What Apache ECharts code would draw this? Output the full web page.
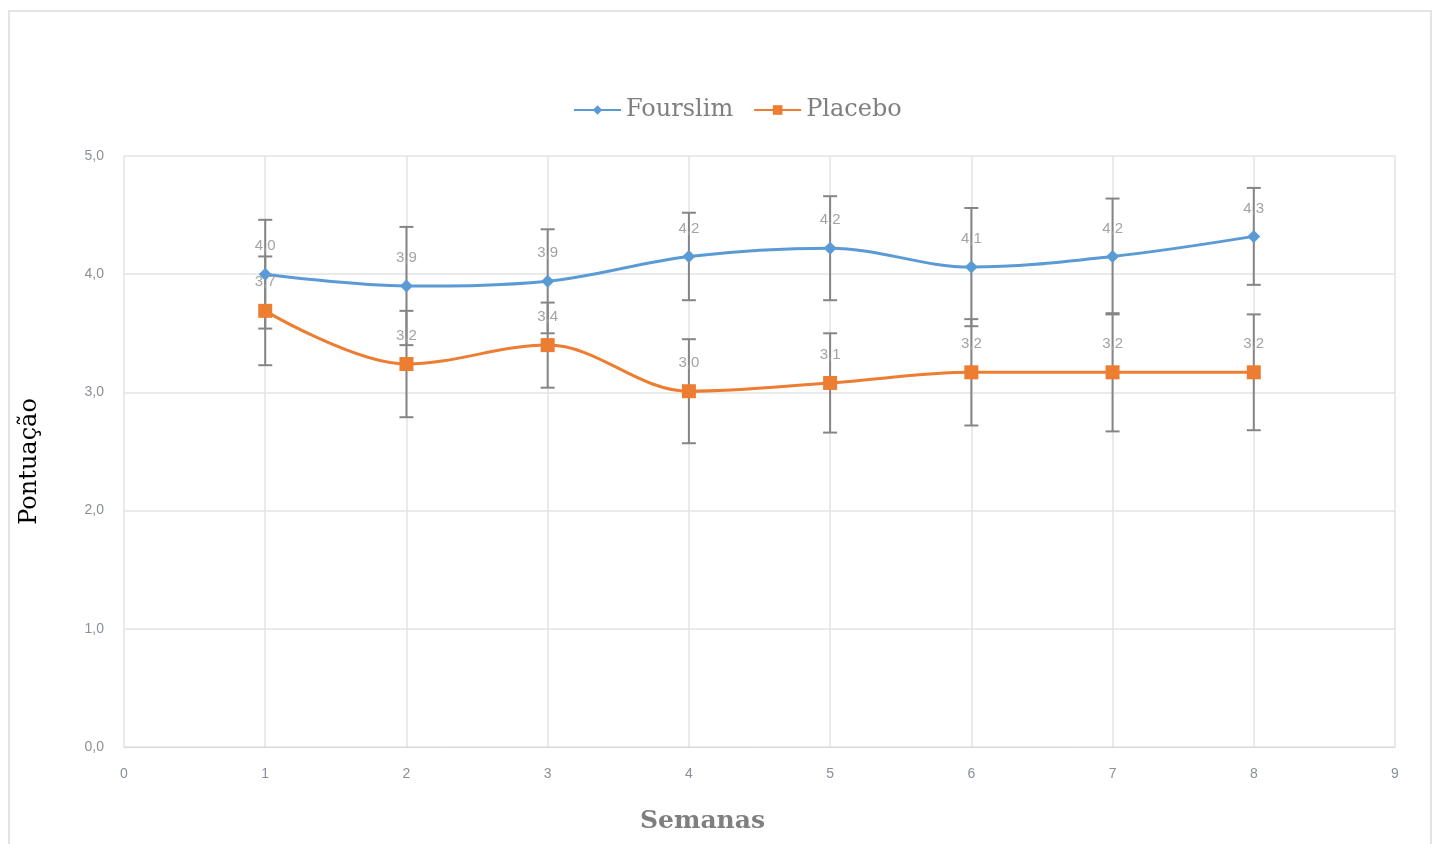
<!DOCTYPE html>
<html>
<head>
<meta charset="utf-8">
<script src="https://cdn.jsdelivr.net/npm/echarts@6/dist/echarts.min.js"></script>
<style>
    html,
    body {
        margin: 0;
        padding: 0;
        background: #fff;
        overflow: hidden;
    }
    
    .frame {
        position: absolute;
        left: 8px;
        top: 10px;
        width: 1420px;
        height: 840px;
        border: 2px solid #e4e4e4;
    }
    
    #chart {
        position: absolute;
        left: 0;
        top: 0;
        width: 1436px;
        height: 844px;
    }
</style>
</head>
<body>
<div class="frame"></div>
<div id="chart"></div>
<script>
    // 数据
    var weeks = [1, 2, 3, 4, 5, 6, 7, 8];
    var fourslimMean = [4.00, 3.90, 3.94, 4.15, 4.22, 4.06, 4.15, 4.32];
    var fourslimErr = [0.46, 0.50, 0.44, 0.37, 0.44, 0.50, 0.49, 0.41];
    var placeboMean = [3.69, 3.24, 3.40, 3.01, 3.08, 3.17, 3.17, 3.17];
    var placeboErr = [0.46, 0.45, 0.36, 0.44, 0.42, 0.45, 0.50, 0.49];

    var comma = function(v) {
        return Number(v).toFixed(1).replace('.', ',');
    };

    var pairs = function(xs, ys) {
        return xs.map(function(x, i) {
            return [x, ys[i]];
        });
    };

    var bars = function(xs, ys, es) {
        return xs.map(function(x, i) {
            return [x, ys[i] - es[i], ys[i] + es[i]];
        });
    };

    // 误差线
    var renderErr = function(params, api) {
        var x = api.value(0);
        var lo = api.coord([x, api.value(1)]);
        var hi = api.coord([x, api.value(2)]);
        var hw = 7;
        var st = {
            stroke: '#858585',
            lineWidth: 2
        };
        return {
            type: 'group',
            children: [{
                type: 'line',
                shape: { x1: hi[0] - hw, y1: hi[1], x2: hi[0] + hw, y2: hi[1] },
                style: st
            }, {
                type: 'line',
                shape: { x1: hi[0], y1: hi[1], x2: lo[0], y2: lo[1] },
                style: st
            }, {
                type: 'line',
                shape: { x1: lo[0] - hw, y1: lo[1], x2: lo[0] + hw, y2: lo[1] },
                style: st
            }]
        };
    };

    var serif = '"DejaVu Serif", "Liberation Serif", serif';
    var axisGray = '#8a8f99';

    var labelOpt = {
        show: true,
        position: 'top',
        distance: 14,
        fontSize: 15,
        color: '#a3a3a3',
        formatter: function(p) {
            return comma(p.value[1]);
        }
    };

    var myChart = echarts.init(document.getElementById('chart'));
    var option = {
        animation: false,
        grid: {
            left: 124,
            right: 41,
            top: 156,
            bottom: 97
        },
        legend: {
            data: ['Fourslim', 'Placebo'],
            top: 93,
            left: 568,
            itemWidth: 47,
            itemHeight: 12,
            itemGap: 20,
            textStyle: {
                fontFamily: serif,
                fontSize: 24,
                color: '#7f7f7f'
            }
        },
        xAxis: {
            type: 'value',
            min: 0,
            max: 9,
            interval: 1,
            name: 'Semanas',
            nameLocation: 'middle',
            nameGap: 62,
            nameTextStyle: {
                fontFamily: serif,
                fontSize: 25,
                fontWeight: 'bold',
                color: '#7f7f7f',
                padding: [0, 114, 0, 0]
            },
            axisLine: {
                show: true,
                lineStyle: { color: '#d9d9d9' }
            },
            axisTick: { show: false },
            axisLabel: {
                margin: 20,
                fontSize: 14,
                color: axisGray
            },
            splitLine: {
                show: true,
                lineStyle: { color: '#e3e3e3', width: 1.5 }
            }
        },
        yAxis: {
            type: 'value',
            min: 0,
            max: 5,
            interval: 1,
            name: 'Pontuação',
            nameLocation: 'middle',
            nameGap: 82,
            nameTextStyle: {
                fontFamily: serif,
                fontSize: 24,
                color: '#000',
                padding: [0, 20, 0, 0]
            },
            axisLine: { show: false },
            axisTick: { show: false },
            axisLabel: {
                margin: 20,
                fontSize: 14,
                color: axisGray,
                formatter: comma
            },
            splitLine: {
                lineStyle: { color: '#e3e3e3', width: 1.5 }
            }
        },
        series: [{
            name: 'Fourslim err',
            type: 'custom',
            renderItem: renderErr,
            data: bars(weeks, fourslimMean, fourslimErr),
            z: 1,
            silent: true
        }, {
            name: 'Placebo err',
            type: 'custom',
            renderItem: renderErr,
            data: bars(weeks, placeboMean, placeboErr),
            z: 1,
            silent: true
        }, {
            name: 'Fourslim',
            type: 'line',
            smooth: 0.35,
            data: pairs(weeks, fourslimMean),
            color: '#5b9bd5',
            symbol: 'diamond',
            symbolSize: 13,
            lineStyle: { width: 3 },
            z: 3,
            label: labelOpt
        }, {
            name: 'Placebo',
            type: 'line',
            smooth: 0.35,
            data: pairs(weeks, placeboMean),
            color: '#ed7d31',
            symbol: 'rect',
            symbolSize: 14,
            lineStyle: { width: 3 },
            z: 3,
            label: labelOpt
        }]
    };
    myChart.setOption(option);
</script>
</body>
</html>
